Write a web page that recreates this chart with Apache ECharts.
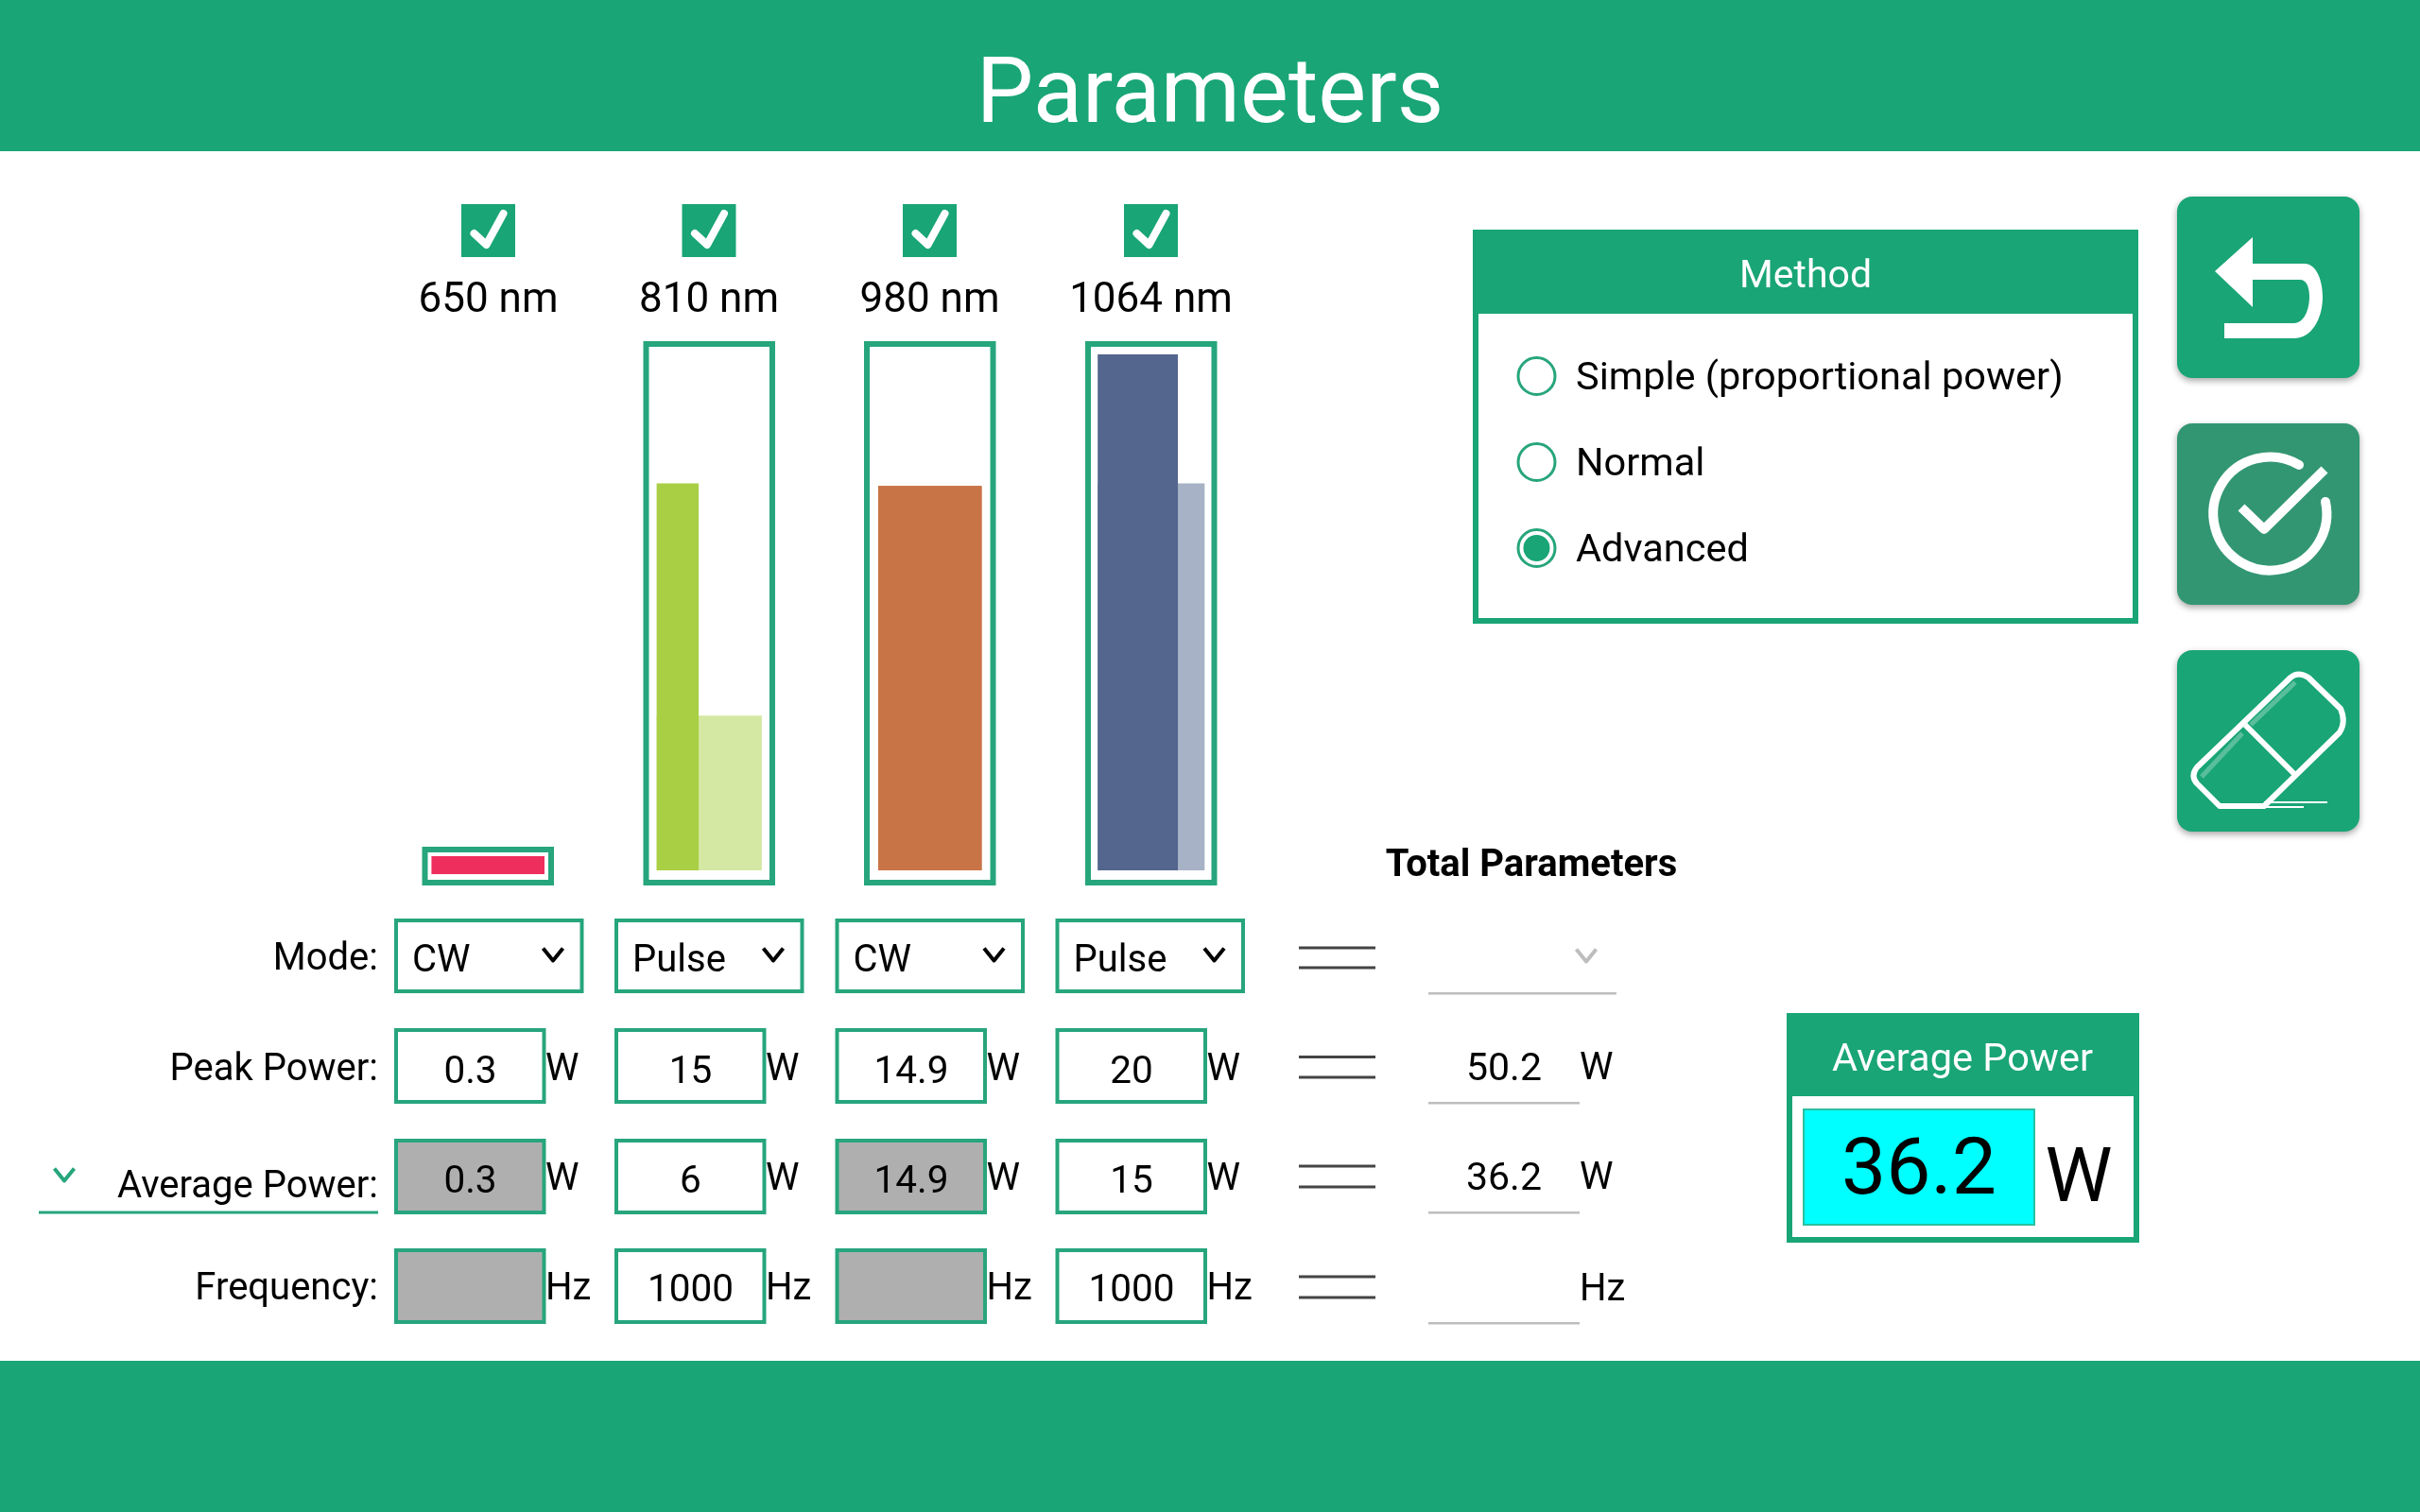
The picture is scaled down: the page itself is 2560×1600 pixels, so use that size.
<!DOCTYPE html>
<html>
<head>
<meta charset="utf-8">
<title>Parameters</title>
<script src="https://cdn.jsdelivr.net/npm/echarts@6/dist/echarts.min.js"></script>
<style>
html, body { margin: 0; padding: 0; background: #fff; }
#chartArea { width: 2560px; height: 1600px; }
</style>
</head>
<body>
<div id="chartArea"></div>
<script>
// chart data
const wavelengths = ['650 nm', '810 nm', '980 nm', '1064 nm'];
const modes = ['CW', 'Pulse', 'CW', 'Pulse'];
const peakPower = [0.3, 15, 14.9, 20];
const averagePower = [0.3, 6, 14.9, 15];
const frequency = ['', 1000, '', 1000];
const totalPeak = 50.2;
const totalAverage = 36.2;
const methods = ['Simple (proportional power)', 'Normal', 'Advanced'];
const selectedMethod = 2;

// colours
const GREEN = '#19a576';
const BORDER = '#27a57d';
const darkColors = ['#ee2e5d', '#a9cf45', '#c97447', '#54668e'];
const lightColors = ['#ee2e5d', '#d5e8a3', '#c97447', '#a7b2c6'];

// layout of the columns
const FONT = 'Roboto';
const colLeft = [417, 650, 883.5, 1116.5];
const frameLeft = [446.5, 680.5, 914, 1148];
const colCentre = [516.5, 750, 983.5, 1217.5];
const FRAME_W = 139.5;
const FRAME_B = 6;
const xMargin = [0.06, 0.1, 0.11, 0.09];
const TEXT_DY = 5;

const chart = echarts.init(document.getElementById('chartArea'));
const g = [];

function rect(x, y, w, h, fill, stroke, lineWidth, extra) {
    g.push(Object.assign({
        type: 'rect',
        shape: { x: x, y: y, width: w, height: h },
        style: { fill: fill, stroke: stroke || null, lineWidth: lineWidth || 0 }
    }, extra || {}));
}

// box with the stroke inside its outer edge
function box(x, y, w, h, fill, lineWidth, color) {
    rect(x + lineWidth / 2, y + lineWidth / 2, w - lineWidth, h - lineWidth, fill, color || BORDER, lineWidth);
}

function text(str, x, y, size, opts) {
    opts = opts || {};
    g.push({
        type: 'text',
        z: 5,
        style: {
            text: String(str),
            x: x,
            y: y + TEXT_DY,
            fill: opts.fill || '#000',
            fontFamily: FONT,
            fontSize: size,
            fontWeight: opts.weight || 'normal',
            align: opts.align || 'center',
            textAlign: opts.align || 'center',
            verticalAlign: 'middle',
            textVerticalAlign: 'middle'
        }
    });
}

// the graphic component has no plain path type here, so each icon path gets its own shape
let pathCount = 0;
function path(d, stroke, width, fill, cap) {
    const name = 'iconPath' + (pathCount++);
    echarts.graphic.registerShape(name, echarts.graphic.extendPath(d, {}));
    g.push({
        type: name,
        z: 5,
        shape: {},
        style: { fill: fill || 'none', stroke: stroke, lineWidth: width, lineCap: cap || 'round', lineJoin: 'round' }
    });
}

function chevron(cx, cy, color) {
    path('M' + (cx - 10.5) + ' ' + (cy - 6.5) + 'L' + cx + ' ' + (cy + 6.5) + 'L' + (cx + 10.5) + ' ' + (cy - 6.5), color, 4, 'none', 'butt');
}

function equalsSign(y1, y2) {
    rect(1374, y1 - 1.5, 81, 3, '#444');
    rect(1374, y2 - 1.5, 81, 3, '#444');
}

// header and footer
rect(0, 0, 2560, 160, GREEN);
rect(0, 1440, 2560, 160, GREEN);
text('Parameters', 1280, 100, 96, { fill: '#fff' });

// checkboxes and wavelength labels
wavelengths.forEach((name, i) => {
    const cx = colCentre[i];
    rect(cx - 28.5, 216, 57, 56, GREEN);
    path('M' + (cx - 15) + ' 247L' + (cx - 2) + ' 259L' + (cx + 16) + ' 226', '#fff', 8);
    text(name, cx, 314, 44);
});

// rows of inputs
const rowLabels = [['Mode:', 1011], ['Peak Power:', 1128], ['Average Power:', 1252], ['Frequency:', 1360]];
rowLabels.forEach(r => text(r[0], 400, r[1], 40, { align: 'right' }));
rect(41, 1281.5, 359, 3, BORDER);
chevron(68, 1243, BORDER);

const rowTops = [1088, 1205, 1321];
modes.forEach((mode, i) => {
    const x = colLeft[i];
    const cw = mode === 'CW';
    box(x, 972, 200.5, 79, '#fff', 4);
    text(mode, x + 19, 1013, 40, { align: 'left' });
    chevron(x + 168, 1010, '#000');

    box(x, rowTops[0], 160.5, 80, '#fff', 4);
    text(peakPower[i], x + 80.5, 1131, 40.5);
    text('W', x + 160, 1128, 40, { align: 'left' });

    box(x, rowTops[1], 160.5, 80, cw ? '#afafaf' : '#fff', 4);
    text(averagePower[i], x + 80.5, 1247, 40.5);
    text('W', x + 160, 1244, 40, { align: 'left' });

    box(x, rowTops[2], 160.5, 80, cw ? '#afafaf' : '#fff', 4);
    text(frequency[i], x + 80.5, 1362, 40.5);
    text('Hz', x + 160, 1360, 40, { align: 'left' });
});

// totals
text('Total Parameters', 1620, 912, 40, { weight: 'bold' });
equalsSign(1003, 1024);
equalsSign(1118.5, 1140);
equalsSign(1234, 1256);
equalsSign(1351, 1373);
rect(1511, 1050, 199, 2.5, '#bdbdbd');
chevron(1678, 1011, '#bdbdbd');
text(totalPeak, 1591, 1128, 41);
text('W', 1671, 1127, 40, { align: 'left' });
rect(1511, 1166, 160, 2.5, '#bdbdbd');
text(totalAverage, 1591, 1244, 41);
text('W', 1671, 1243, 40, { align: 'left' });
rect(1511, 1282, 160, 2.5, '#bdbdbd');
text('Hz', 1671, 1361, 40, { align: 'left' });
rect(1511, 1399, 160, 2.5, '#bdbdbd');

// average power panel
box(1890, 1072, 373, 243, '#fff', 6, GREEN);
rect(1890, 1072, 373, 88, GREEN);
text('Average Power', 2076, 1118, 41.5, { fill: '#fff' });
box(1907, 1173, 246, 124, '#00ffff', 2, '#2ac0a0');
text(totalAverage, 2030, 1236.5, 84);
text('W', 2199, 1246, 80);

// method panel
box(1558, 243, 704, 417, '#fff', 6, GREEN);
rect(1558, 243, 704, 89, GREEN);
text('Method', 1910, 289, 41, { fill: '#fff' });
const radioY = [398, 489, 580];
methods.forEach((name, i) => {
    g.push({
        type: 'circle', z: 5,
        shape: { cx: 1625.5, cy: radioY[i], r: 19.5 },
        style: { fill: '#fff', stroke: BORDER, lineWidth: 3 }
    });
    if (i === selectedMethod) {
        g.push({ type: 'circle', z: 6, shape: { cx: 1625.5, cy: radioY[i], r: 14 }, style: { fill: GREEN } });
    }
    text(name, 1667, radioY[i] - 1, 41.5, { align: 'left' });
});

// action buttons
const shadow = { shadowBlur: 7, shadowOffsetY: 3, shadowColor: 'rgba(0,0,0,0.35)' };
[[208, GREEN], [448, '#339673'], [688, GREEN]].forEach(b => {
    g.push({
        type: 'rect',
        shape: { x: 2303, y: b[0], width: 193, height: 192, r: 16 },
        style: Object.assign({ fill: b[1] }, shadow)
    });
});

// back icon
path('M2343 287L2383 251L2383 279L2438 279C2450 279 2457 296 2457 314C2457 338 2445 358 2427 358L2353 358L2353 342L2427 342C2437 342 2443 328 2443 314C2443 304 2440 296 2433 296L2383 296L2383 325Z', 'none', 0, '#fff');
// confirm icon
path('M2432 492A60 60 0 1 0 2460 531', '#fff', 10);
path('M2371 537L2395 560L2459 497', '#fff', 10, 'none', 'butt');
// eraser icon
path('M2375 767L2428 820', '#fff', 6, 'none', 'butt');
path('M2423 717Q2431 710 2442 717L2476 750Q2482 764 2475 775L2395 853L2348 853L2324 829Q2317 821 2324 812Z', '#fff', 6);
path('M2329 822L2372 776M2381 767L2428 722', 'rgba(255,255,255,0.28)', 5, 'none', 'butt');
rect(2395, 848, 67, 2, '#fff');
rect(2395, 853, 42, 2, '#fff');

// power bars: x runs over the pulse width (0..1), y over the power in watts
const yRange = [[-0.142, 0.41], [-0.476, 20.4], [-0.476, 20.4], [-0.476, 20.4]];
const grids = [];
const xAxes = [];
const yAxes = [];
const series = [];

function renderBar(params, api) {
    const start = api.coord([0, 0]);
    const end = api.coord([api.value(0), api.value(1)]);
    return {
        type: 'rect',
        shape: { x: start[0], y: end[1], width: end[0] - start[0], height: start[1] - end[1] },
        style: { fill: api.visual('color') }
    };
}

wavelengths.forEach((name, i) => {
    const top = i === 0 ? 896 : 361;
    grids.push({
        show: true,
        left: frameLeft[i] + FRAME_B / 2,
        top: top + FRAME_B / 2,
        width: FRAME_W - FRAME_B,
        height: 937 - top - FRAME_B,
        backgroundColor: '#fff',
        borderColor: BORDER,
        borderWidth: FRAME_B
    });
    xAxes.push({ type: 'value', gridIndex: i, show: false, min: -xMargin[i], max: 1 + xMargin[i] });
    yAxes.push({ type: 'value', gridIndex: i, show: false, min: yRange[i][0], max: yRange[i][1] });
    series.push({
        type: 'custom',
        name: name + ' average',
        xAxisIndex: i,
        yAxisIndex: i,
        itemStyle: { color: lightColors[i] },
        renderItem: renderBar,
        silent: true,
        data: [[1, averagePower[i]]]
    });
    series.push({
        type: 'custom',
        name: name + ' peak',
        xAxisIndex: i,
        yAxisIndex: i,
        itemStyle: { color: darkColors[i] },
        renderItem: renderBar,
        silent: true,
        data: [[averagePower[i] / peakPower[i], peakPower[i]]]
    });
});

chart.setOption({
    animation: false,
    backgroundColor: '#fff',
    grid: grids,
    xAxis: xAxes,
    yAxis: yAxes,
    series: series,
    graphic: { elements: g }
});
</script>
</body>
</html>
